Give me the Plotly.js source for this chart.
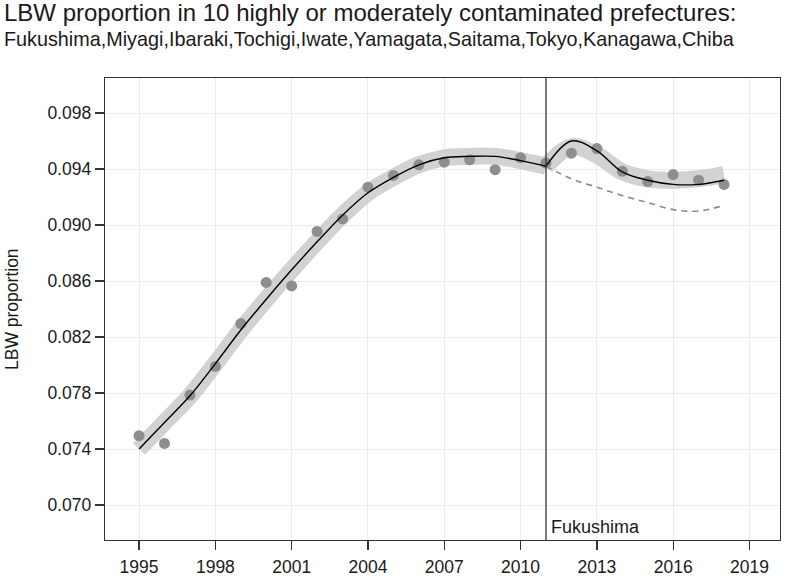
<!DOCTYPE html>
<html>
<head>
<meta charset="utf-8">
<script src="https://cdn.plot.ly/plotly-3.0.1.min.js"></script>
<style>
  html, body { margin: 0; padding: 0; background: #fff; }
  #plot { width: 787px; height: 576px; }
</style>
</head>
<body>
<div id="plot"></div>
<script>
// observed LBW proportion per year
const years = [1995, 1996, 1997, 1998, 1999, 2000, 2001, 2002, 2003, 2004, 2005, 2006,
               2007, 2008, 2009, 2010, 2011, 2012, 2013, 2014, 2015, 2016, 2017, 2018];
const observed = [0.07495, 0.0744, 0.07785, 0.0799, 0.08296, 0.0859, 0.08565, 0.08954,
                  0.09043, 0.0927, 0.09354, 0.0943, 0.09449, 0.09466, 0.09395, 0.0948,
                  0.09442, 0.09513, 0.09546, 0.09384, 0.0931, 0.0936, 0.0932, 0.0929];

// fitted trend before the disaster
const preYears = [1995, 1996, 1997, 1998, 1999, 2000, 2001, 2002, 2003, 2004, 2005, 2006,
                  2007, 2008, 2009, 2010, 2011];
const preFit = [0.0740, 0.0759, 0.0778, 0.0801, 0.0825, 0.0847, 0.0868, 0.0888, 0.0907,
                0.0923, 0.0934, 0.0943, 0.0948, 0.0949, 0.0949, 0.0946, 0.0942];

// fitted trend after the disaster, its band and the counterfactual
const postYears = [2011, 2012, 2013, 2014, 2015, 2016, 2017, 2018];
const postFit = [0.0942, 0.0960, 0.0953, 0.0938, 0.0932, 0.0929, 0.0929, 0.0932];
const postBand = [0.0942, 0.0956, 0.0950, 0.0938, 0.0933, 0.0932, 0.0933, 0.0936];
const counterfactual = [0.0942, 0.0933, 0.0927, 0.0921, 0.0916, 0.0911, 0.0910, 0.0914];

const xTicks = [1995, 1998, 2001, 2004, 2007, 2010, 2013, 2016, 2019];
const yTicks = [0.070, 0.074, 0.078, 0.082, 0.086, 0.090, 0.094, 0.098];

const bandColor = '#d2d2d2';
const font = 'Liberation Sans, Arial, sans-serif';

const traces = [
  { x: preYears, y: preFit, mode: 'lines', line: { color: bandColor, width: 17, shape: 'spline' }, hoverinfo: 'skip' },
  { x: postYears, y: postBand, mode: 'lines', line: { color: bandColor, width: 17, shape: 'spline' }, hoverinfo: 'skip' },
  { x: postYears, y: counterfactual, mode: 'lines', line: { color: '#8a8a8a', width: 1.6, dash: '6px,5px', shape: 'spline' } },
  { x: years, y: observed, mode: 'markers', marker: { color: '#8e8e8e', size: 11 } },
  { x: preYears, y: preFit, mode: 'lines', line: { color: '#000', width: 1.4, shape: 'spline' } },
  { x: postYears, y: postFit, mode: 'lines', line: { color: '#000', width: 1.4, shape: 'spline' } }
];

const axisCommon = {
  showline: true, linecolor: '#333', linewidth: 1.3, mirror: true,
  ticks: 'outside', ticklen: 9, tickwidth: 1.3, tickcolor: '#333',
  showgrid: true, gridcolor: '#ebebeb', gridwidth: 1,
  zeroline: false, tickfont: { family: font, size: 17.5, color: '#1a1a1a' }
};

const layout = {
  width: 787, height: 576,
  margin: { l: 105, r: 7, t: 78, b: 36 },
  paper_bgcolor: '#fff', plot_bgcolor: '#fff',
  showlegend: false,
  font: { family: font, color: '#1a1a1a' },
  xaxis: Object.assign({}, axisCommon, {
    range: [1993.66, 2020.2], tickmode: 'array', tickvals: xTicks,
    ticklabelstandoff: 2
  }),
  yaxis: Object.assign({}, axisCommon, {
    range: [0.0675, 0.1005], tickmode: 'array', tickvals: yTicks,
    ticktext: yTicks.map(v => v.toFixed(3))
  }),
  shapes: [
    { type: 'line', xref: 'x', yref: 'paper', x0: 2011, x1: 2011, y0: 0, y1: 1,
      line: { color: '#333', width: 1.3 } }
  ],
  annotations: [
    { text: 'LBW proportion in 10 highly or moderately contaminated prefectures:',
      xref: 'paper', yref: 'paper', x: -0.153, y: 1.1416, xanchor: 'left', yanchor: 'middle',
      showarrow: false, font: { family: font, size: 24, color: '#1a1a1a' } },
    { text: 'Fukushima,Miyagi,Ibaraki,Tochigi,Iwate,Yamagata,Saitama,Tokyo,Kanagawa,Chiba',
      xref: 'paper', yref: 'paper', x: -0.153, y: 1.0846, xanchor: 'left', yanchor: 'middle',
      showarrow: false, font: { family: font, size: 19.8, color: '#1a1a1a' } },
    { text: 'LBW proportion', xref: 'paper', yref: 'paper', x: -0.1378, y: 0.5,
      xanchor: 'center', yanchor: 'middle', textangle: -90, showarrow: false,
      font: { family: font, size: 17.5, color: '#1a1a1a' } },
    { text: 'Fukushima', xref: 'x', yref: 'y', x: 2011, y: 0.06843, xanchor: 'left',
      yanchor: 'middle', xshift: 3, showarrow: false,
      font: { family: font, size: 18, color: '#1a1a1a' } }
  ]
};

Plotly.newPlot('plot', traces, layout, { displayModeBar: false, staticPlot: true });
</script>
</body>
</html>
